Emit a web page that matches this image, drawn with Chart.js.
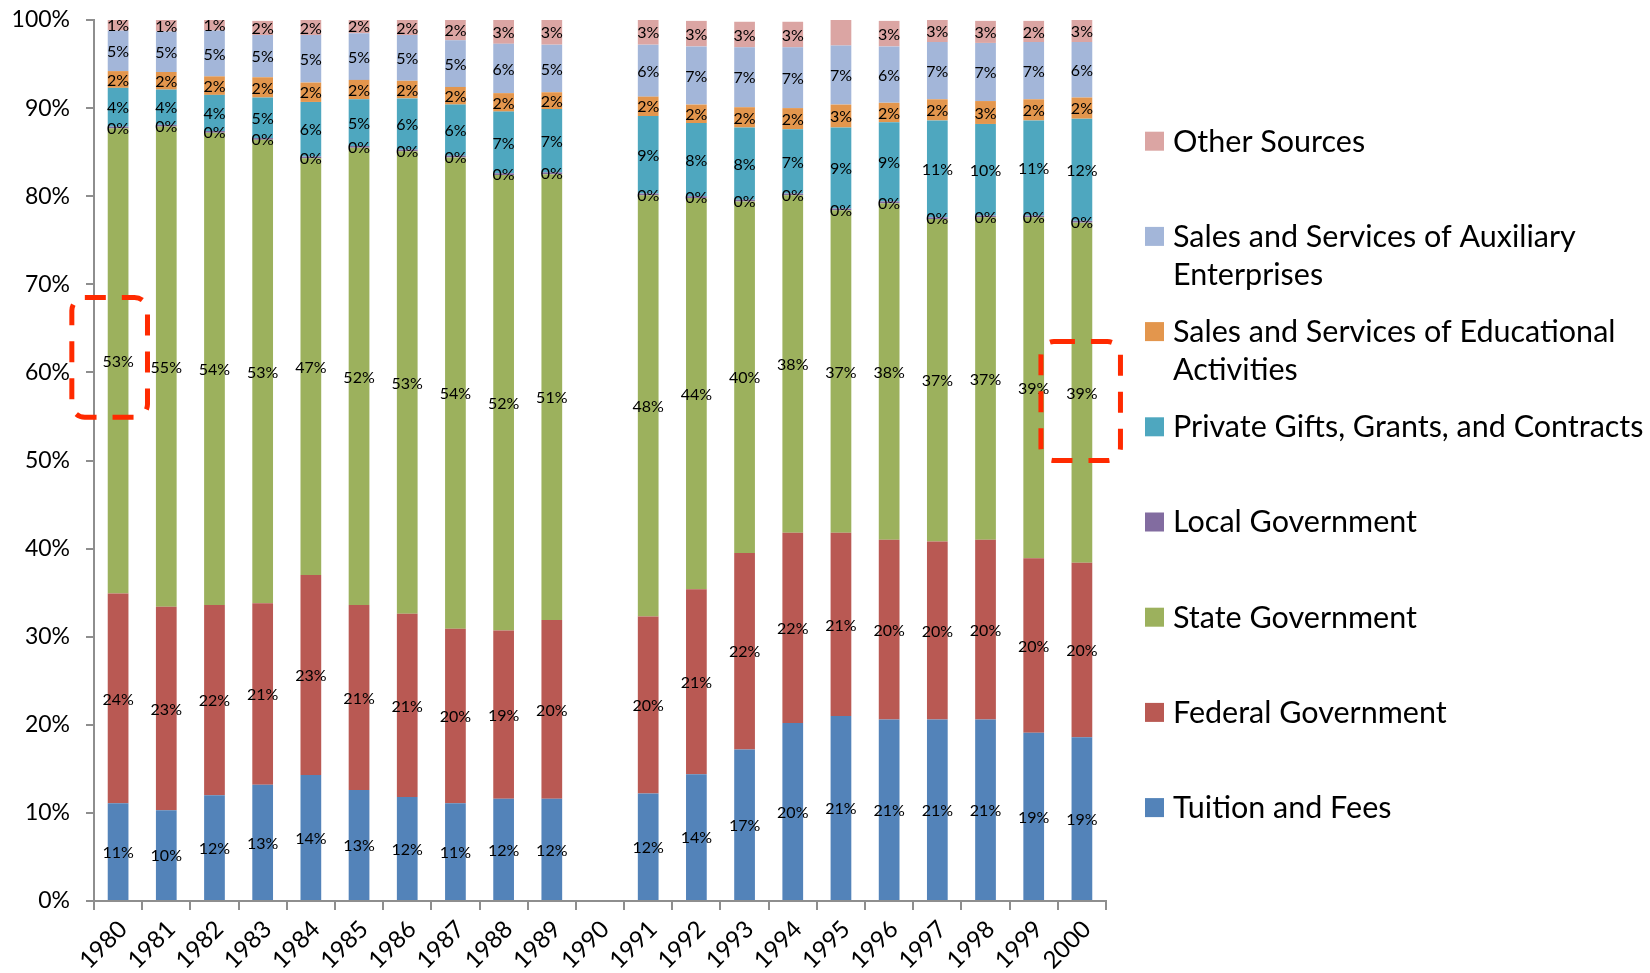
<!DOCTYPE html>
<html>
<head>
<meta charset="utf-8">
<title>Revenue sources 1980-2000</title>
<script src="https://cdn.jsdelivr.net/npm/chart.js@4.4.1/dist/chart.umd.min.js"></script>
<style>
  html, body { margin: 0; padding: 0; background: #fff; }
  #chart { display: block; }
</style>
</head>
<body>
<canvas id="chart" width="1650" height="973"></canvas>
<script>
// share of revenue by source, percent (1990 has no data)
const years = ['1980', '1981', '1982', '1983', '1984', '1985', '1986', '1987', '1988', '1989', '1990',
    '1991', '1992', '1993', '1994', '1995', '1996', '1997', '1998', '1999', '2000'];

const tuitionFees = [11.1, 10.3, 12.0, 13.2, 14.3, 12.6, 11.8, 11.1, 11.6, 11.6, null,
    12.2, 14.4, 17.2, 20.2, 21.0, 20.6, 20.6, 20.6, 19.1, 18.6];
const federalGov = [23.8, 23.1, 21.6, 20.6, 22.7, 21.0, 20.8, 19.8, 19.1, 20.3, null,
    20.1, 21.0, 22.3, 21.6, 20.8, 20.4, 20.2, 20.4, 19.8, 19.8];
const stateGov = [52.8, 54.5, 53.6, 52.6, 47.3, 51.9, 52.5, 53.5, 51.7, 50.6, null,
    47.8, 44.4, 39.9, 38.3, 36.6, 38.2, 36.6, 36.6, 38.7, 38.6];
const localGov = [0.2, 0.2, 0.2, 0.2, 0.2, 0.2, 0.2, 0.2, 0.2, 0.2, null,
    0.2, 0.2, 0.2, 0.2, 0.2, 0.2, 0.2, 0.2, 0.2, 0.2];
const privateGifts = [4.4, 4.0, 4.1, 4.6, 6.2, 5.3, 5.8, 5.8, 7.0, 7.2, null,
    8.8, 8.3, 8.2, 7.3, 9.2, 9.0, 11.0, 10.4, 10.8, 11.6];
const educationalSales = [1.9, 2.0, 2.1, 2.3, 2.2, 2.2, 2.0, 2.0, 2.1, 1.9, null,
    2.2, 2.1, 2.3, 2.4, 2.6, 2.2, 2.4, 2.6, 2.4, 2.4];
const auxiliarySales = [4.6, 4.6, 5.2, 4.8, 5.4, 5.3, 5.2, 5.3, 5.6, 5.4, null,
    5.9, 6.6, 6.8, 6.9, 6.7, 6.4, 6.5, 6.6, 6.5, 6.3];
const otherSources = [1.3, 1.3, 1.3, 1.6, 1.7, 1.6, 1.7, 2.3, 2.7, 2.9, null,
    2.9, 2.9, 2.9, 2.9, 2.9, 2.9, 2.6, 2.5, 2.4, 2.6];

const yTicks = [0, 10, 20, 30, 40, 50, 60, 70, 80, 90, 100];

// the original has no label on this segment
const unlabelled = { 'Other Sources': ['1995'] };

// red dashed call-outs (category offsets and percent range)
const callouts = [
    { year: '1980', left: -0.96, right: 0.61, low: 54.9, high: 68.5 },
    { year: '2000', left: -0.85, right: 0.80, low: 50.0, high: 63.5 }
];

const FONT = 'Lato, "Open Sans", sans-serif';

const dataLabels = {
    id: 'dataLabels',
    afterDatasetsDraw(chart) {
        const ctx = chart.ctx;
        ctx.save();
        ctx.font = '16px ' + FONT;
        ctx.fillStyle = '#000';
        ctx.textAlign = 'center';
        ctx.textBaseline = 'middle';
        chart.data.datasets.forEach(function (ds, i) {
            const skip = unlabelled[ds.label] || [];
            chart.getDatasetMeta(i).data.forEach(function (bar, j) {
                const v = ds.data[j];
                if (v === null || skip.indexOf(years[j]) !== -1) return;
                ctx.fillText(Math.round(v) + '%', bar.x, (bar.y + bar.base) / 2 + 1);
            });
        });
        ctx.restore();
    }
};

const calloutBoxes = {
    id: 'calloutBoxes',
    afterDatasetsDraw(chart) {
        const ctx = chart.ctx;
        const x = chart.scales.x, y = chart.scales.y;
        const step = x.getPixelForValue(1) - x.getPixelForValue(0);
        ctx.save();
        ctx.strokeStyle = '#FF2A00';
        ctx.lineWidth = 5;
        ctx.setLineDash([21, 16]);
        callouts.forEach(function (c) {
            const cx = x.getPixelForValue(years.indexOf(c.year));
            const x0 = cx + c.left * step, x1 = cx + c.right * step;
            const y0 = y.getPixelForValue(c.high), y1 = y.getPixelForValue(c.low);
            ctx.beginPath();
            ctx.roundRect(x0, y0, x1 - x0, y1 - y0, 13);
            ctx.stroke();
        });
        ctx.restore();
    }
};

const sideLegend = {
    id: 'sideLegend',
    afterDraw(chart) {
        const ctx = chart.ctx;
        const items = chart.data.datasets.slice().reverse();
        const textX = 1173, maxW = 1650 - textX - 2;
        ctx.save();
        ctx.font = '30.5px ' + FONT;
        ctx.textBaseline = 'middle';
        ctx.textAlign = 'left';
        items.forEach(function (ds, i) {
            const cy = 141.7 + i * 95.2;
            ctx.fillStyle = ds.backgroundColor;
            ctx.fillRect(1145, cy - 10, 19, 19);
            // wrap long labels
            const words = ds.label.split(' ');
            const lines = [];
            let line = '';
            words.forEach(function (w) {
                const test = line ? line + ' ' + w : w;
                if (line && ctx.measureText(test).width > maxW) {
                    lines.push(line);
                    line = w;
                } else {
                    line = test;
                }
            });
            lines.push(line);
            ctx.fillStyle = '#000';
            lines.forEach(function (l, k) {
                ctx.fillText(l, textX, cy + k * 38);
            });
        });
        ctx.restore();
    }
};

const config = {
    type: 'bar',
    data: {
        labels: years,
        datasets: [
            { label: 'Tuition and Fees', data: tuitionFees, backgroundColor: '#5383B9' },
            { label: 'Federal Government', data: federalGov, backgroundColor: '#B95953' },
            { label: 'State Government', data: stateGov, backgroundColor: '#9CB15D' },
            { label: 'Local Government', data: localGov, backgroundColor: '#826CA0' },
            { label: 'Private Gifts, Grants, and Contracts', data: privateGifts, backgroundColor: '#4EA7BF' },
            { label: 'Sales and Services of Educational Activities', data: educationalSales, backgroundColor: '#E3964D' },
            { label: 'Sales and Services of Auxiliary Enterprises', data: auxiliarySales, backgroundColor: '#A3B6D9' },
            { label: 'Other Sources', data: otherSources, backgroundColor: '#DBA5A3' }
        ]
    },
    options: {
        responsive: false,
        animation: false,
        layout: {
            padding: { left: 0, right: 544, top: 20, bottom: 0 }
        },
        datasets: {
            bar: {
                categoryPercentage: 1,
                barPercentage: 0.43
            }
        },
        scales: {
            x: {
                stacked: true,
                grid: {
                    offset: true,
                    drawOnChartArea: false,
                    drawTicks: true,
                    tickLength: 9,
                    color: '#8E8E8E',
                    lineWidth: 2
                },
                border: { display: true, color: '#8E8E8E', width: 2 },
                ticks: {
                    color: '#000',
                    font: { family: FONT, size: 24 },
                    minRotation: 45,
                    maxRotation: 45,
                    autoSkip: false,
                    padding: 5,
                    labelOffset: 5
                },
                afterFit: function (scale) {
                    scale.height = 72;
                }
            },
            y: {
                stacked: true,
                min: 0,
                max: 100,
                afterBuildTicks: function (scale) {
                    scale.ticks = yTicks.map(function (v) { return { value: v }; });
                },
                grid: {
                    drawOnChartArea: false,
                    drawTicks: true,
                    tickLength: 8,
                    color: '#8E8E8E',
                    lineWidth: 2
                },
                border: { display: true, color: '#8E8E8E', width: 2 },
                ticks: {
                    color: '#000',
                    font: { family: FONT, size: 23 },
                    padding: 16,
                    callback: function (value) {
                        return value + '%';
                    }
                },
                afterFit: function (scale) {
                    scale.width = 94;
                    // keep the label overflow from pushing the plot down
                    scale.paddingTop = 10;
                    scale.paddingBottom = 10;
                }
            }
        },
        plugins: {
            legend: { display: false },
            tooltip: { enabled: false }
        }
    },
    plugins: [dataLabels, calloutBoxes, sideLegend]
};

new Chart(document.getElementById('chart'), config);
</script>
</body>
</html>
